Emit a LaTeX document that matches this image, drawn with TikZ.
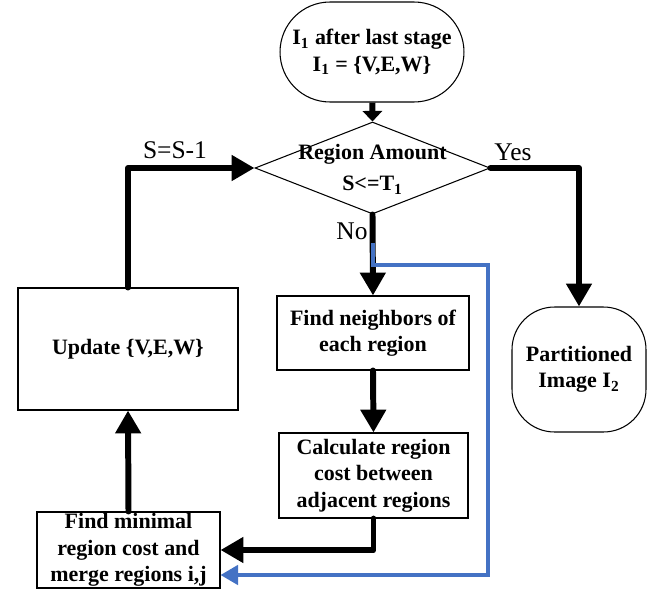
\documentclass[tikz,border=0pt]{standalone}
\usepackage{fontspec}
\setmainfont{Liberation Serif}
\usetikzlibrary{arrows.meta,shapes.geometric}
\definecolor{flowblue}{RGB}{68,114,196}
\begin{document}
\begin{tikzpicture}[x=0.02cm,y=-0.02cm,
    box/.style={draw, line width=0.6pt, align=center, inner sep=0pt,
        font=\fontsize{12.5}{15}\selectfont\bfseries},
    term/.style={box, rounded corners=1cm},
    decbox/.style={draw, line width=0.6pt, diamond, inner sep=0pt,
        minimum width=4.7cm, minimum height=1.84cm},
    lbl/.style={font=\fontsize{14.5}{17}\selectfont, inner sep=0pt},
    flow/.style={line width=3.4pt, line cap=round, line join=round,
        -{Triangle[length=13pt,width=14pt]}},
    blueflow/.style={draw=flowblue, line width=2.2pt,
        -{Triangle[length=10pt,width=11pt]}}] %Fusion de regiones
    \useasboundingbox (0,0) rectangle (657,592);

    \node[term, minimum width=3.68cm, minimum height=2cm] (start) at (372,52)
        {I\textsubscript{1} after last stage\\I\textsubscript{1} = \{V,E,W\}};
    \node[decbox] (amount) at (372.5,168) {};
    \node[box, draw=none] (amounttxt) at (372.5,169)
        {Region Amount\\[3pt]S<=T\textsubscript{1}};
    \node[box, minimum width=3.84cm, minimum height=1.48cm] (neigh) at (373,333)
        {Find neighbors of\\each region};
    \node[box, minimum width=3.78cm, minimum height=1.7cm] (calc) at (373.5,475.5)
        {Calculate region\\cost between\\adjacent regions};
    \node[box, minimum width=3.66cm, minimum height=1.52cm] (merge) at (128.5,550)
        {Find minimal\\region cost and\\merge regions i,j};
    \node[box, minimum width=4.4cm, minimum height=2.44cm] (update) at (128,349)
        {Update \{V,E,W\}};
    \node[term, minimum width=2.68cm, minimum height=2.5cm, rounded corners=0.85cm]
        (final) at (579,369.5) {Partitioned\\Image I\textsubscript{2}};

    \node[lbl] (yes) at (513,152) {Yes};
    \node[lbl] (no) at (352,231) {No};
    \node[lbl] (dec) at (175,150) {S=S-1};

    \draw[line width=3.4pt, -{Triangle[length=6pt,width=11pt]}] (start) -- (amount.north);
    \draw[flow] (amount.east) -| (final.north);
    \draw[flow] (amount.south) -- (neigh.north);
    \draw[flow] (neigh.south) -- (calc.north);
    \draw[flow] (calc.south) |- (merge.east);
    \draw[flow] (merge.north) -- (update.south);
    \draw[flow] (update.north) |- (amount.west);

    \coordinate (split) at (373,243);
    \coordinate (bend) at (488,265);
    \draw[blueflow] (split) |- (bend) |- (merge.east |- 0,575);
\end{tikzpicture}
\end{document}
